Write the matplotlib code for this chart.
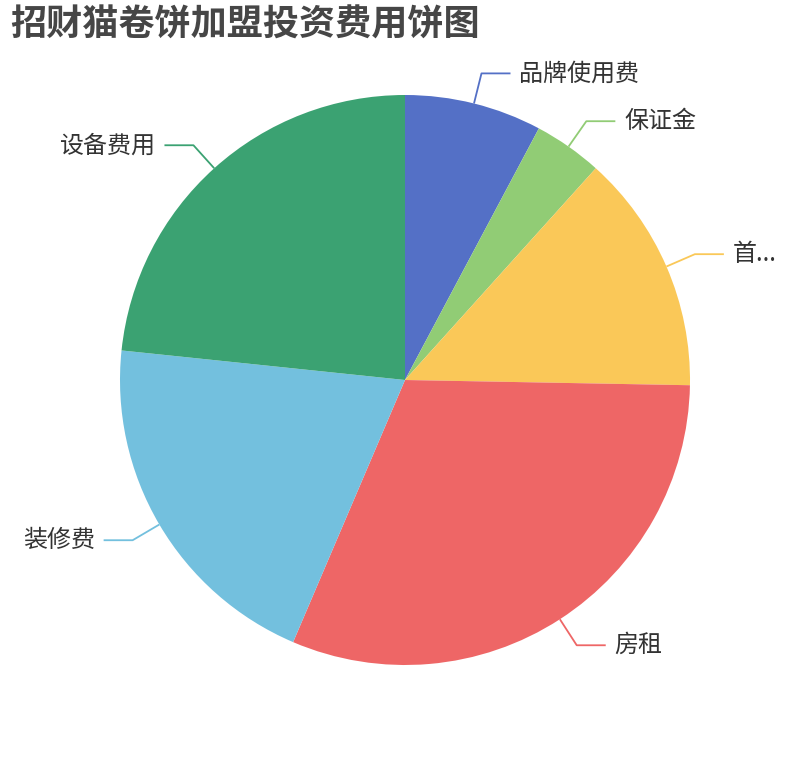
import numpy as np
import matplotlib
matplotlib.use("Agg")
import matplotlib.pyplot as plt

plt.rcParams["font.family"] = ["Noto Sans CJK SC", "DejaVu Sans"]

# --- Data ---
names = ["品牌使用费", "保证金", "首...", "房租", "装修费", "设备费用"]
values = [2, 1, 3.5, 8, 5.2, 6]
colors = ["#5470c6", "#91cc75", "#fac858", "#ee6666", "#73c0de", "#3ba272"]
title = "招财猫卷饼加盟投资费用饼图"

W, H = 810, 760
cx, cy, R = 405, 380, 285

fig = plt.figure(figsize=(W / 100, H / 100), dpi=100)
ax = fig.add_axes([0, 0, 1, 1])

ax.pie(values, colors=colors, startangle=90, counterclock=False,
       center=(cx, cy), radius=R, wedgeprops=dict(linewidth=0))
ax.set_xlim(0, W)
ax.set_ylim(0, H)
ax.set_aspect("equal")
ax.axis("off")

# label lines, echarts style
total = sum(values)
cum = 0
for name, v, c in zip(names, values, colors):
    mid = np.deg2rad((cum + v / 2) / total * 360)
    cum += v
    sx, sy = cx + R * np.sin(mid), cy + R * np.cos(mid)
    bx, by = cx + (R + 31) * np.sin(mid), cy + (R + 31) * np.cos(mid)
    side = 1 if np.sin(mid) >= 0 else -1
    ex = bx + side * 29
    ax.plot([sx, bx, ex], [sy, by, by], color=c, lw=1.3, solid_capstyle="butt")
    ax.text(ex + side * 9, by, name, ha="left" if side > 0 else "right",
            va="center", fontsize=17.3, color="#333333")

fig.text(10 / W, 1 - 25 / H, title, ha="left", va="center", fontsize=26,
         fontweight="bold", color="#464646")

fig.savefig("out.png", dpi=100)
